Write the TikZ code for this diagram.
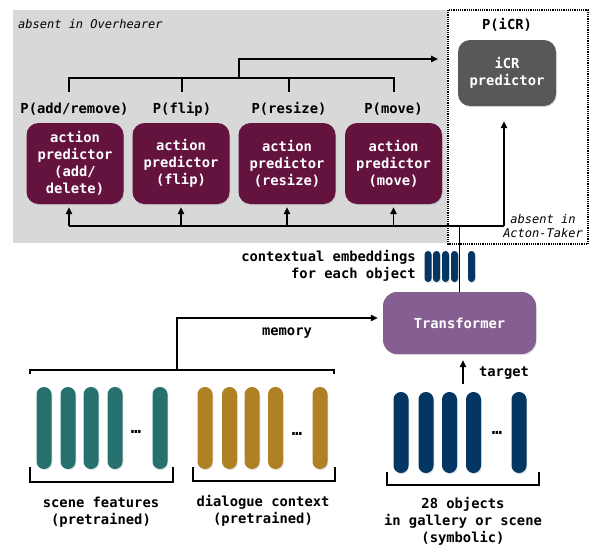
\documentclass[tikz,border=0pt]{standalone}
\usepackage{fontspec}
\setmonofont{DejaVu Sans Mono}
\usetikzlibrary{arrows.meta,shadows}
\definecolor{actmaroon}{RGB}{100,18,62}
\definecolor{icrgray}{RGB}{88,88,88}
\definecolor{tfpurple}{RGB}{133,95,145}
\definecolor{panelgray}{RGB}{216,216,216}
\definecolor{scenecol}{RGB}{38,112,110}
\definecolor{dialcol}{RGB}{176,128,36}
\definecolor{objcol}{RGB}{3,54,99}

\begin{document}
\begin{tikzpicture}[x=1pt,y=-1pt,
  lbl/.style={font=\ttfamily\bfseries\fontsize{13.8}{17}\selectfont, align=center, inner sep=0pt},
  note/.style={font=\ttfamily\itshape\fontsize{12}{14}\selectfont, align=center, inner sep=0pt},
  dots/.style={font=\ttfamily\bfseries\fontsize{17}{17}\selectfont, inner sep=0pt},
  softshadow/.style={drop shadow={opacity=0.22, shadow xshift=0.8pt, shadow yshift=-1.2pt}},
  pred/.style={lbl, fill=actmaroon, text=white, rounded corners=12pt,
    minimum width=97pt, minimum height=81pt, softshadow},
  line/.style={line width=1.4pt},
  arrow/.style={line, -{Triangle[length=7pt,width=6.5pt]}}
]
\useasboundingbox (0,0) rectangle (598,552);

\fill[panelgray] (13,10) rectangle (447,243);
\draw[densely dotted, line width=1.2pt] (448,10) rectangle (588,244);
\node[note, anchor=west] (overh) at (18,24) {absent in Overhearer};
\node[note] (actt) at (543,226) {absent in\\Acton-Taker};

\node[pred] (addp) at (75,163.5) {action\\predictor\\(add/\\delete)};
\node[pred] (flipp) at (181,163.5) {action\\predictor\\(flip)};
\node[pred] (resizep) at (287,163.5) {action\\predictor\\(resize)};
\node[pred] (movep) at (393.5,163.5) {action\\predictor\\(move)};
\node[lbl] (padd) at (74.5,109) {P(add/remove)};
\node[lbl] (pflip) at (182,109) {P(flip)};
\node[lbl] (presize) at (289,109) {P(resize)};
\node[lbl] (pmove) at (393.5,109) {P(move)};

\node[pred, fill=icrgray, minimum width=98pt, minimum height=66pt] (icr) at (507,73) {iCR\\predictor};
\node[lbl] (picr) at (507,25) {P(iCR)};

\draw[line] (69,92) -- (69,78) -- (394,78) -- (394,92);
\draw[line] (182,78) -- (182,92);
\draw[line] (289,78) -- (289,92);
\coordinate (busT) at (239,78);
\coordinate (icrin) at (438,59);
\draw[arrow] (busT) |- (icrin);

\coordinate (bus) at (504,226);
\draw[line] ([xshift=-6pt]addp.south |- bus) -- (bus);
\draw[arrow, shorten >=3pt] ([xshift=-6pt]addp.south |- bus) -- ([xshift=-6pt]addp.south);
\foreach \n in {flipp,resizep,movep}
  \draw[arrow, shorten >=3pt] (\n.south |- bus) -- (\n.south);
\draw[arrow, shorten >=15pt] (bus) -- (bus |- icr.south);

\node[lbl, fill=tfpurple, text=white, rounded corners=14pt,
  minimum width=153pt, minimum height=62pt, softshadow] (tf) at (459.5,323) {Transformer};

\node[lbl, align=right, anchor=east] (ctx) at (416,265.5) {contextual embeddings\\for each object};
\foreach \x in {428,436.5,445.5,454.5,471.5}
  \fill[objcol, rounded corners=3.4pt, softshadow] ({\x-3.5},251) rectangle ({\x+3.5},282);
\draw[line] (tf.north) -- (tf.north |- bus);

\coordinate (mem) at (177,370);
\draw[arrow, shorten >=5pt] (mem) |- ([yshift=5pt]tf.west);
\node[lbl] (memlbl) at (287,333) {memory};

\coordinate (tgt) at (463,384);
\draw[arrow, shorten >=6pt] (tgt) -- (tgt |- tf.south);
\node[lbl] (tgtlbl) at (504,373) {target};

\foreach \x in {44,68,91,115,160}
  \fill[scenecol, rounded corners=7.4pt, softshadow] ({\x-7.5},387) rectangle ({\x+7.5},469);
\foreach \x in {205,229.5,252,275.5,320}
  \fill[dialcol, rounded corners=7.4pt, softshadow] ({\x-7.5},387) rectangle ({\x+7.5},469);
\foreach \x in {401,426,449.5,473.5,519}
  \fill[objcol, rounded corners=7.4pt, softshadow] ({\x-7.5},392) rectangle ({\x+7.5},473);
\node[dots] (sdots) at (136,432) {…};
\node[dots] (ddots) at (297,434) {…};
\node[dots] (odots) at (497,433) {…};

\draw[line] (30,374) -- (30,370) -- (334,370) -- (334,374);
\draw[line] (30,467) -- (30,482) -- (173,482) -- (173,467);
\draw[line] (193,467) -- (193,481) -- (335,481) -- (335,467);
\draw[line] (387,472) -- (387,485) -- (539,485) -- (539,472);

\node[lbl] (scenelbl) at (101,512.5) {scene features\\(pretrained)};
\node[lbl] (diallbl) at (263,510.5) {dialogue context\\(pretrained)};
\node[lbl] (objlbl) at (463,521) {28 objects\\in gallery or scene\\(symbolic)};
\end{tikzpicture}
\end{document}
